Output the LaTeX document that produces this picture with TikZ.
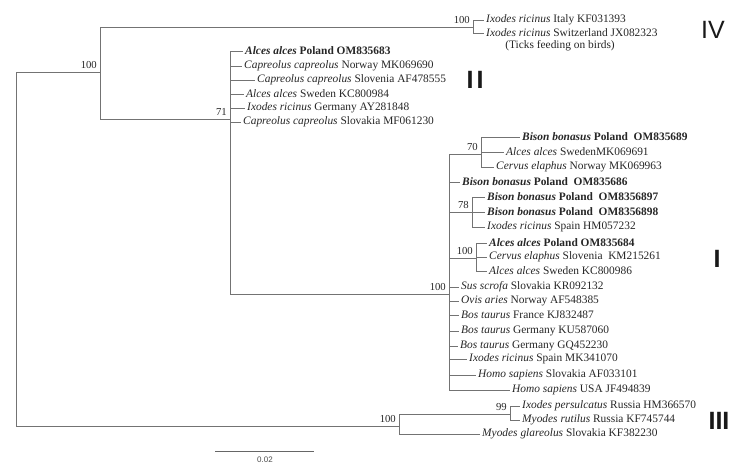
\documentclass[tikz,border=0pt]{standalone}
\usepackage{fontspec}
\setmainfont{Liberation Serif}
\setsansfont{Liberation Sans}
\usetikzlibrary{positioning}

\begin{document}
\begin{tikzpicture}[x=1pt, y=-1pt]
    % Define styles
    \tikzstyle{branch} = [draw=black!55, line width=1pt]
    \tikzstyle{tip} = [anchor=west, inner xsep=2pt, inner ysep=0pt, text=black!85, font=\fontsize{11.4}{13}\selectfont]
    \tikzstyle{boot} = [anchor=south east, inner sep=1pt, xshift=-2pt, yshift=2pt, text=black!85, font=\fontsize{10.7}{12}\selectfont]
    \tikzstyle{clade} = [text=black!90, font=\sffamily\bfseries\fontsize{25}{25}\selectfont]

    \useasboundingbox (0,0) rectangle (746,472);

    % Internal nodes
    \coordinate (root) at (16,72);
    \coordinate (n100a) at (100,72);
    \coordinate (nIV) at (473,27);
    \coordinate (nII) at (230,119);
    \coordinate (nI) at (449,294);
    \coordinate (n70) at (481,154);
    \coordinate (n78) at (472,212);
    \coordinate (n100c) at (476,258);
    \coordinate (nIII) at (399,426);
    \coordinate (n99) at (510,414);

    % Backbone
    \draw[branch] (root) -- (n100a);
    \draw[branch] (root) |- (nIII);
    \draw[branch] (n100a) |- (nIV);
    \draw[branch] (n100a) |- (nII);
    \draw[branch] (nII) |- (nI);
    \draw[branch] (nI) |- (n70);
    \draw[branch] (nI) |- (n78);
    \draw[branch] (nI) |- (n100c);
    \draw[branch] (nIII) |- (n99);

    % Clade IV
    \node[tip] (ticksIT) at (484,20) {\textit{Ixodes ricinus} Italy KF031393};
    \node[tip] (ticksCH) at (484,33) {\textit{Ixodes ricinus} Switzerland JX082323};
    \node[tip, anchor=center] (birds) at (560,46) {(Ticks feeding on birds)};
    \draw[branch] (nIV) |- (ticksIT.west);
    \draw[branch] (nIV) |- (ticksCH.west);

    % Clade II
    \node[tip] (alcesPL1) at (243,51) {\textbf{\textit{Alces alces} Poland OM835683}};
    \node[tip] (caprNO) at (242,66) {\textit{Capreolus capreolus} Norway MK069690};
    \node[tip] (caprSI) at (255,80) {\textit{Capreolus capreolus} Slovenia AF478555};
    \node[tip] (alcesSE1) at (244,94) {\textit{Alces alces} Sweden KC800984};
    \node[tip] (ixoDE) at (245,108) {\textit{Ixodes ricinus} Germany AY281848};
    \node[tip] (caprSK) at (241,122) {\textit{Capreolus capreolus} Slovakia MF061230};
    \draw[branch] (nII) |- (alcesPL1.west);
    \draw[branch] (nII) |- (caprNO.west);
    \draw[branch] (nII) |- (caprSI.west);
    \draw[branch] (nII) |- (alcesSE1.west);
    \draw[branch] (nII) |- (ixoDE.west);
    \draw[branch] (nII) |- (caprSK.west);

    % Clade I
    \node[tip] (bison89) at (520,137) {\textbf{\textit{Bison bonasus} Poland~~OM835689}};
    \node[tip] (alcesSE2) at (504,152) {\textit{Alces alces} SwedenMK069691};
    \node[tip] (cervNO) at (494,167) {\textit{Cervus elaphus} Norway MK069963};
    \node[tip] (bison86) at (460,182) {\textbf{\textit{Bison bonasus} Poland~~OM835686}};
    \node[tip] (bison97) at (485,197) {\textbf{\textit{Bison bonasus} Poland~~OM8356897}};
    \node[tip] (bison98) at (485,212) {\textbf{\textit{Bison bonasus} Poland~~OM8356898}};
    \node[tip] (ixoES1) at (485,227) {\textit{Ixodes ricinus} Spain HM057232};
    \node[tip] (alcesPL2) at (487,243) {\textbf{\textit{Alces alces} Poland OM835684}};
    \node[tip] (cervSI) at (487,257) {\textit{Cervus elaphus} Slovenia~~KM215261};
    \node[tip] (alcesSE3) at (487,271) {\textit{Alces alces} Sweden KC800986};
    \node[tip] (susSK) at (459,287) {\textit{Sus scrofa} Slovakia KR092132};
    \node[tip] (ovisNO) at (459,301) {\textit{Ovis aries} Norway AF548385};
    \node[tip] (bosFR) at (459,315) {\textit{Bos taurus} France KJ832487};
    \node[tip] (bosDE1) at (459,331) {\textit{Bos taurus} Germany KU587060};
    \node[tip] (bosDE2) at (458,346) {\textit{Bos taurus} Germany GQ452230};
    \node[tip] (ixoES2) at (467,359) {\textit{Ixodes ricinus} Spain MK341070};
    \node[tip] (homoSK) at (476,375) {\textit{Homo sapiens} Slovakia AF033101};
    \node[tip] (homoUS) at (510,390) {\textit{Homo sapiens} USA JF494839};
    \draw[branch] (n70) |- (bison89.west);
    \draw[branch] (n70) |- (alcesSE2.west);
    \draw[branch] (n70) |- (cervNO.west);
    \draw[branch] (nI) |- (bison86.west);
    \draw[branch] (n78) |- (bison97.west);
    \draw[branch] (n78) |- (bison98.west);
    \draw[branch] (n78) |- (ixoES1.west);
    \draw[branch] (n100c) |- (alcesPL2.west);
    \draw[branch] (n100c) |- (cervSI.west);
    \draw[branch] (n100c) |- (alcesSE3.west);
    \draw[branch] (nI) |- (susSK.west);
    \draw[branch] (nI) |- (ovisNO.west);
    \draw[branch] (nI) |- (bosFR.west);
    \draw[branch] (nI) |- (bosDE1.west);
    \draw[branch] (nI) |- (bosDE2.west);
    \draw[branch] (nI) |- (ixoES2.west);
    \draw[branch] (nI) |- (homoSK.west);
    \draw[branch] (nI) |- (homoUS.west);

    % Clade III
    \node[tip] (ixoRU) at (520,406) {\textit{Ixodes persulcatus} Russia HM366570};
    \node[tip] (myoRU) at (520,420) {\textit{Myodes rutilus} Russia KF745744};
    \node[tip] (myoSK) at (480,434) {\textit{Myodes glareolus} Slovakia KF382230};
    \draw[branch] (n99) |- (ixoRU.west);
    \draw[branch] (n99) |- (myoRU.west);
    \draw[branch] (nIII) |- (myoSK.west);

    % Bootstrap values
    \node[boot] (b100a) at (n100a) {100};
    \node[boot] (bIV) at (nIV) {100};
    \node[boot] (bII) at (nII) {71};
    \node[boot] (bI) at (nI) {100};
    \node[boot] (b70) at (n70) {70};
    \node[boot] (b78) at (n78) {78};
    \node[boot] (b100c) at (n100c) {100};
    \node[boot] (bIII) at (nIII) {100};
    \node[boot] (b99) at (n99) {99};

    % Clade labels
    \node[clade, font=\sffamily\fontsize{25}{25}\selectfont] (labIV) at (713,30) {IV};
    \node[clade] (labII) at (475,80) {I\hspace{3pt}I};
    \node[clade] (labI) at (717,259) {I};
    \node[clade] (labIII) at (719,421) {III};

    % Scale bar
    \coordinate (sbL) at (215,451);
    \coordinate (sbM) at (265,451);
    \coordinate (sbR) at (314,451);
    \draw[draw=black!60, line width=0.9pt] (sbL) -- (sbR);
    \node[text=black!70, font=\sffamily\fontsize{8}{9}\selectfont, below=2pt of sbM] (sbText) {0.02};
\end{tikzpicture}
\end{document}
